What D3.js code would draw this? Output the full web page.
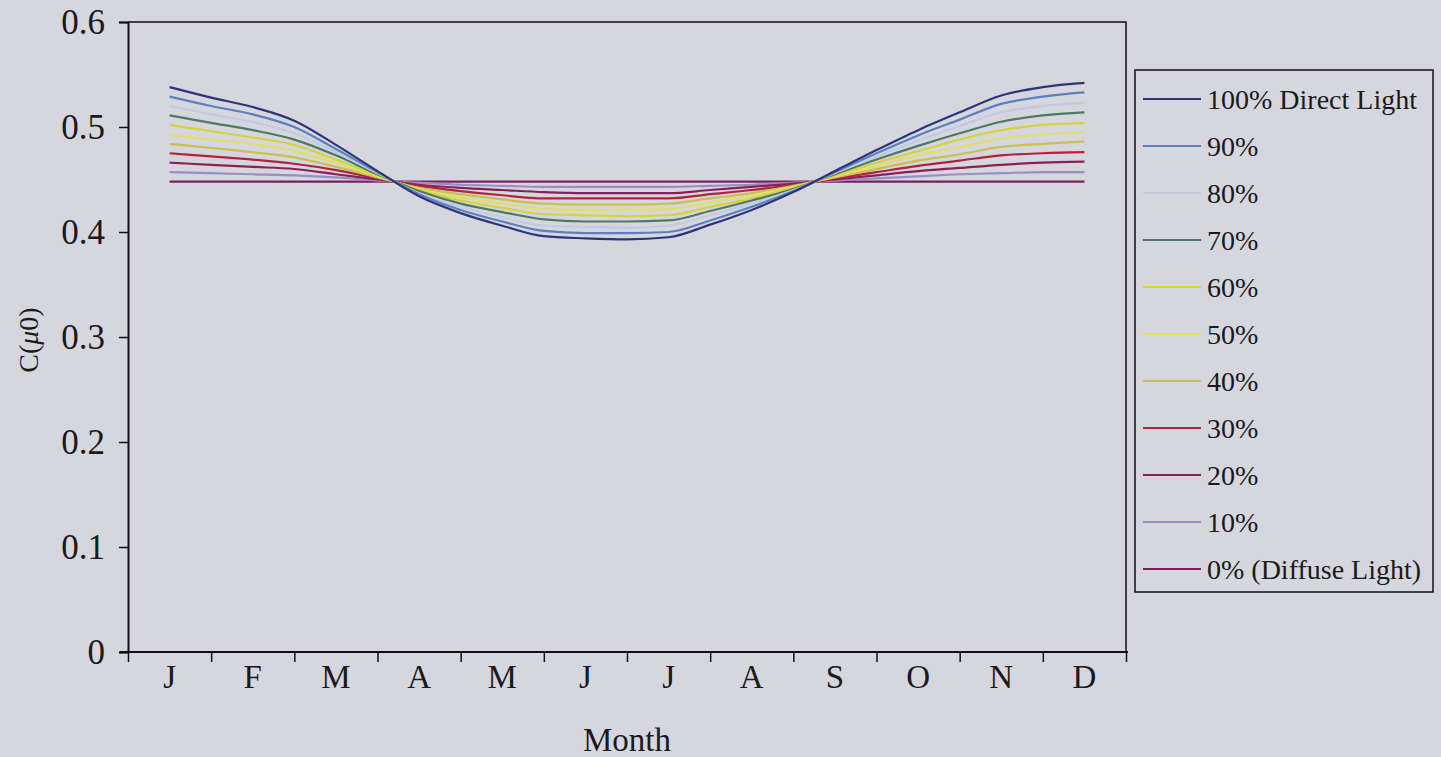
<!DOCTYPE html>
<html>
<head>
<meta charset="utf-8">
<script src="https://cdn.jsdelivr.net/npm/d3@7"></script>
<style>
  html, body { margin: 0; padding: 0; background: #d6d6df; overflow: hidden; }
  svg { display: block; }
  text { font-family: "Liberation Serif", "DejaVu Serif", serif; fill: #1a1a1a; }
</style>
</head>
<body>
<div id="chart"></div>
<script>
// Datos
const months = ['J', 'F', 'M', 'A', 'M', 'J', 'J', 'A', 'S', 'O', 'N', 'D'];
const yTicks = [0, 0.1, 0.2, 0.3, 0.4, 0.5, 0.6];
// posicion en meses (0 = inicio de enero), un punto cada medio mes
const monthPos = [0.5, 1, 1.5, 2, 2.5, 3, 3.5, 4, 4.5, 5, 5.5, 6, 6.5, 7, 7.5, 8, 8.5, 9, 9.5, 10, 10.5, 11, 11.5];

const seriesNames = ['100% Direct Light', '90%', '80%', '70%', '60%', '50%', '40%', '30%', '20%', '10%', '0% (Diffuse Light)'];
const seriesColors = ['#2e3478', '#5a80bd', '#c3cbe0', '#4c7a62', '#d6d23e', '#e2de6a', '#c9c052', '#b0223e', '#8c1f58', '#9a8cc4', '#74215f'];

const s100 = [0.538, 0.528, 0.519, 0.506, 0.483, 0.458, 0.434, 0.418, 0.406, 0.396, 0.394, 0.393, 0.395, 0.407, 0.421, 0.438, 0.458, 0.478, 0.497, 0.514, 0.530, 0.538, 0.542];
const s90  = [0.529, 0.520, 0.512, 0.500, 0.479, 0.457, 0.436, 0.421, 0.410, 0.401, 0.399, 0.399, 0.400, 0.411, 0.424, 0.439, 0.457, 0.475, 0.492, 0.507, 0.522, 0.529, 0.533];
const s80  = [0.520, 0.512, 0.505, 0.494, 0.476, 0.456, 0.437, 0.424, 0.414, 0.406, 0.405, 0.404, 0.406, 0.416, 0.427, 0.440, 0.456, 0.472, 0.487, 0.501, 0.514, 0.520, 0.523];
const s70  = [0.511, 0.504, 0.497, 0.488, 0.473, 0.455, 0.439, 0.427, 0.419, 0.412, 0.410, 0.410, 0.411, 0.420, 0.430, 0.441, 0.455, 0.469, 0.482, 0.494, 0.505, 0.511, 0.514];
const s60  = [0.502, 0.496, 0.490, 0.483, 0.469, 0.454, 0.440, 0.430, 0.423, 0.417, 0.416, 0.415, 0.416, 0.424, 0.432, 0.442, 0.454, 0.466, 0.477, 0.488, 0.497, 0.502, 0.504];
const s50  = [0.493, 0.488, 0.484, 0.477, 0.466, 0.453, 0.441, 0.433, 0.427, 0.422, 0.421, 0.421, 0.422, 0.428, 0.435, 0.443, 0.453, 0.463, 0.473, 0.481, 0.489, 0.493, 0.495];
const s40  = [0.484, 0.480, 0.476, 0.471, 0.462, 0.452, 0.442, 0.436, 0.431, 0.427, 0.426, 0.426, 0.427, 0.432, 0.437, 0.444, 0.452, 0.460, 0.468, 0.474, 0.481, 0.484, 0.486];
const s30  = [0.475, 0.472, 0.469, 0.465, 0.459, 0.451, 0.444, 0.439, 0.435, 0.432, 0.432, 0.432, 0.432, 0.436, 0.440, 0.445, 0.451, 0.457, 0.463, 0.468, 0.473, 0.475, 0.476];
const s20  = [0.466, 0.464, 0.462, 0.460, 0.455, 0.450, 0.445, 0.442, 0.440, 0.438, 0.437, 0.437, 0.437, 0.440, 0.443, 0.446, 0.450, 0.454, 0.458, 0.461, 0.464, 0.466, 0.467];
const s10  = [0.457, 0.456, 0.455, 0.454, 0.452, 0.449, 0.447, 0.445, 0.444, 0.443, 0.443, 0.443, 0.443, 0.444, 0.445, 0.447, 0.449, 0.451, 0.453, 0.455, 0.456, 0.457, 0.457];
const s0   = [0.448, 0.448, 0.448, 0.448, 0.448, 0.448, 0.448, 0.448, 0.448, 0.448, 0.448, 0.448, 0.448, 0.448, 0.448, 0.448, 0.448, 0.448, 0.448, 0.448, 0.448, 0.448, 0.448];

const seriesValues = [s100, s90, s80, s70, s60, s50, s40, s30, s20, s10, s0];

// Grafico
let W = 1441, H = 757;
let margin = {top: 22, right: 315, bottom: 105, left: 128},
    width = W - margin.left - margin.right,
    height = H - margin.top - margin.bottom;

let svg = d3.select('#chart')
    .append('svg')
        .attr('width', W)
        .attr('height', H);

let g = svg.append('g')
    .attr('transform', 'translate(' + margin.left + ',' + margin.top + ')');

let x = d3.scaleLinear().domain([0, 12]).range([0, width]);
let y = d3.scaleLinear().domain([0, 0.6]).range([height, 0]);

// marco superior y derecho
g.append('path')
    .attr('d', 'M0,0H' + width + 'V' + height)
    .attr('fill', 'none')
    .attr('stroke', '#111')
    .attr('stroke-width', 1.5);

// Eje Y
let yAxis = function(g) {
    g.call(d3.axisLeft(y).tickValues(yTicks).tickSize(9).tickPadding(14)
        .tickFormat(function(d) { return d === 0 ? '0' : d.toFixed(1); }));
    g.attr('font-family', null);
    g.select('.domain').attr('stroke', '#111').attr('stroke-width', 2);
    g.selectAll('.tick line').attr('stroke', '#111').attr('stroke-width', 1.5);
    g.selectAll('.tick text').attr('font-size', 35).attr('fill', null);
}
g.append('g').call(yAxis);

// Eje X
let xAxis = function(g) {
    g.call(d3.axisBottom(x).tickValues(d3.range(13)).tickSize(10).tickSizeOuter(0).tickFormat(''));
    g.select('.domain').attr('stroke', '#111').attr('stroke-width', 2)
        .attr('d', 'M-8,0H' + (width + 2));
    g.selectAll('.tick line').attr('stroke', '#111').attr('stroke-width', 1.5);
}
g.append('g')
    .attr('transform', 'translate(0,' + height + ')')
    .call(xAxis);

g.selectAll('.month')
    .data(months)
    .enter()
    .append('text')
    .attr('class', 'month')
    .attr('x', function(d, i) { return x(i + 0.5); })
    .attr('y', height + 36)
    .attr('text-anchor', 'middle')
    .attr('font-size', 33)
    .text(function(d) { return d; });

g.append('text')
    .attr('x', x(6))
    .attr('y', height + 99)
    .attr('text-anchor', 'middle')
    .attr('font-size', 33)
    .text('Month');

// titulo eje Y
let yTitle = svg.append('text')
    .attr('transform', 'translate(38,340) rotate(-90)')
    .attr('text-anchor', 'middle')
    .attr('font-size', 28);
yTitle.append('tspan').text('C(');
yTitle.append('tspan').attr('font-style', 'italic').text('μ');
yTitle.append('tspan').text('0)');

// Lineas
let line = d3.line()
    .curve(d3.curveMonotoneX)
    .x(function(d, i) { return x(monthPos[i]); })
    .y(function(d) { return y(d); });

// orden de dibujo: de 0% a 100% para que la azul quede encima
let order = d3.range(seriesValues.length).reverse();
g.selectAll('.serie')
    .data(order)
    .enter()
    .append('path')
    .attr('class', 'serie')
    .attr('fill', 'none')
    .attr('stroke', function(i) { return seriesColors[i]; })
    .attr('stroke-width', 2.2)
    .attr('d', function(i) { return line(seriesValues[i]); });

// Leyenda
let legend = svg.append('g').attr('transform', 'translate(1135,70)');
legend.append('rect')
    .attr('width', 298)
    .attr('height', 522)
    .attr('fill', 'none')
    .attr('stroke', '#111')
    .attr('stroke-width', 1.5);

let items = legend.selectAll('.item')
    .data(seriesNames)
    .enter()
    .append('g')
    .attr('class', 'item')
    .attr('transform', function(d, i) { return 'translate(0,' + (29 + i * 47) + ')'; });

items.append('line')
    .attr('x1', 8).attr('x2', 66)
    .attr('stroke', function(d, i) { return seriesColors[i]; })
    .attr('stroke-width', 1.8);

items.append('text')
    .attr('x', 72)
    .attr('y', 10)
    .attr('font-size', 28)
    .text(function(d) { return d; });
</script>
</body>
</html>
